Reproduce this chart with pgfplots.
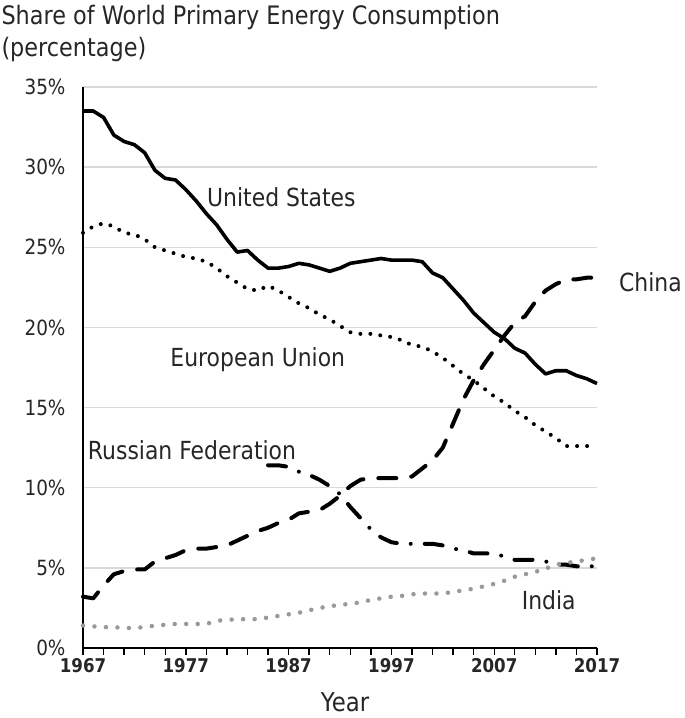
\documentclass[border=0pt]{standalone}
\usepackage{fontspec}
\setmainfont{DejaVu Sans}[FakeStretch=0.88]
\usepackage{pgfplots}
\pgfplotsset{compat=1.18}
\usepackage{pgfplotstable}

\pgfplotstableread{
year us eu china india
1967 33.5 25.9 3.2 1.4
1968 33.5 26.3 3.1 1.35
1969 33.1 26.5 3.9 1.3
1970 32.0 26.3 4.6 1.3
1971 31.6 25.9 4.8 1.25
1972 31.4 25.8 4.9 1.25
1973 30.9 25.5 4.9 1.3
1974 29.8 25.0 5.4 1.4
1975 29.3 24.8 5.6 1.45
1976 29.2 24.6 5.8 1.5
1977 28.6 24.4 6.1 1.5
1978 27.9 24.3 6.2 1.5
1979 27.1 24.1 6.2 1.5
1980 26.4 23.7 6.3 1.7
1981 25.5 23.2 6.4 1.75
1982 24.7 22.8 6.7 1.8
1983 24.8 22.4 7.0 1.8
1984 24.2 22.3 7.3 1.8
1985 23.7 22.6 7.5 1.9
1986 23.7 22.3 7.8 2.0
1987 23.8 21.9 8.0 2.1
1988 24.0 21.5 8.4 2.2
1989 23.9 21.2 8.5 2.35
1990 23.7 20.8 8.6 2.5
1991 23.5 20.5 9.0 2.6
1992 23.7 20.1 9.5 2.7
1993 24.0 19.7 10.1 2.75
1994 24.1 19.6 10.5 2.85
1995 24.2 19.6 10.6 3.0
1996 24.3 19.5 10.6 3.1
1997 24.2 19.4 10.6 3.2
1998 24.2 19.2 10.6 3.25
1999 24.2 18.9 10.7 3.35
2000 24.1 18.8 11.2 3.4
2001 23.4 18.5 11.7 3.4
2002 23.1 18.1 12.5 3.4
2003 22.4 17.6 14.0 3.5
2004 21.7 17.1 15.5 3.6
2005 20.9 16.7 16.7 3.7
2006 20.3 16.2 17.7 3.85
2007 19.7 15.7 18.6 4.0
2008 19.3 15.3 19.5 4.2
2009 18.7 14.8 20.3 4.45
2010 18.4 14.4 20.7 4.6
2011 17.7 13.9 21.6 4.75
2012 17.1 13.5 22.3 4.95
2013 17.3 13.1 22.7 5.2
2014 17.3 12.6 23.0 5.3
2015 17.0 12.6 23.0 5.4
2016 16.8 12.6 23.1 5.5
2017 16.5 12.6 23.1 5.6
}\maindata

\pgfplotstableread{
year ru
1985 11.4
1986 11.4
1987 11.3
1988 11.0
1989 10.8
1990 10.5
1991 10.1
1992 9.6
1993 8.8
1994 8.1
1995 7.4
1996 6.9
1997 6.6
1998 6.5
1999 6.5
2000 6.5
2001 6.5
2002 6.4
2003 6.2
2004 6.1
2005 5.9
2006 5.9
2007 5.9
2008 5.7
2009 5.5
2010 5.5
2011 5.5
2012 5.4
2013 5.2
2014 5.2
2015 5.1
2016 5.1
2017 5.1
}\rudata

\definecolor{gridgray}{HTML}{D9D9D9}
\definecolor{indiagray}{HTML}{999999}
\definecolor{txt}{HTML}{262626}

\begin{document}
\begin{tikzpicture}
\begin{axis}[
  name=ax,
  scale only axis,
  width=514bp, height=561bp,
  xmin=1967, xmax=2017, ymin=0, ymax=35,
  axis x line*=bottom, axis y line*=left,
  axis line style={black, line width=1.6bp, -},
  /pgf/number format/1000 sep={},
  /pgf/number format/assume math mode=true,
  ytick={0,5,...,35},
  yticklabel={\pgfmathprintnumber{\tick}\%},
  yticklabel style={font=\fontsize{21}{24}\selectfont, text=txt, xshift=-7bp},
  ymajorgrids,
  grid style={gridgray, line width=1.3bp},
  xtick={1967,1977,...,2017},
  minor xtick={1969,1971,...,2015},
  xticklabel style={font=\fontsize{19}{22}\selectfont\bfseries, text=txt},
  tick align=outside,
  major tick length=7bp, minor tick length=7bp,
  xtick style={black, line width=1.4bp},
  ytick style={draw=none},
  clip=false,
]
\addplot[black, line width=3.6bp, line join=round] table[x=year, y=us]{\maindata};
\addplot[black, line width=4bp, line cap=round, dash pattern=on 0pt off 10bp] table[x=year, y=eu]{\maindata};
\addplot[black, line width=4bp, line cap=round, line join=round, dash pattern=on 18bp off 15bp] table[x=year, y=china]{\maindata};
\addplot[black, line width=4bp, line cap=round, line join=round, dash pattern=on 18bp off 14bp on 0bp off 14bp] table[x=year, y=ru]{\rudata};
\addplot[indiagray, line width=4.5bp, line cap=round, dash pattern=on 0pt off 11.5bp] table[x=year, y=india]{\maindata};

\begin{scope}[every node/.style={font=\fontsize{25}{28}\selectfont, text=txt}]
\node at (axis cs:1986.3,28.1) {United States};
\node at (axis cs:1984.0,18.0) {European Union};
\node at (axis cs:1977.6,12.35) {Russian Federation};
\node at (axis cs:2022.2,22.8) {China};
\node at (axis cs:2012.3,3.0) {India};
\end{scope}
\end{axis}
\node[anchor=base west, font=\fontsize{25.5}{28}\selectfont, text=txt] at ([xshift=-85bp, yshift=62bp]ax.north west) {Share of World Primary Energy Consumption};
\node[anchor=base west, font=\fontsize{25.5}{28}\selectfont, text=txt] at ([xshift=-85bp, yshift=30bp]ax.north west) {(percentage)};
\node[anchor=base, font=\fontsize{26}{30}\selectfont, text=txt] at ([xshift=5bp, yshift=-63bp]ax.south) {Year};
\pgfresetboundingbox
\path[use as bounding box] ([xshift=-83bp, yshift=-70bp]ax.south west) rectangle ([xshift=88bp, yshift=87bp]ax.north east);
\end{tikzpicture}
\end{document}
